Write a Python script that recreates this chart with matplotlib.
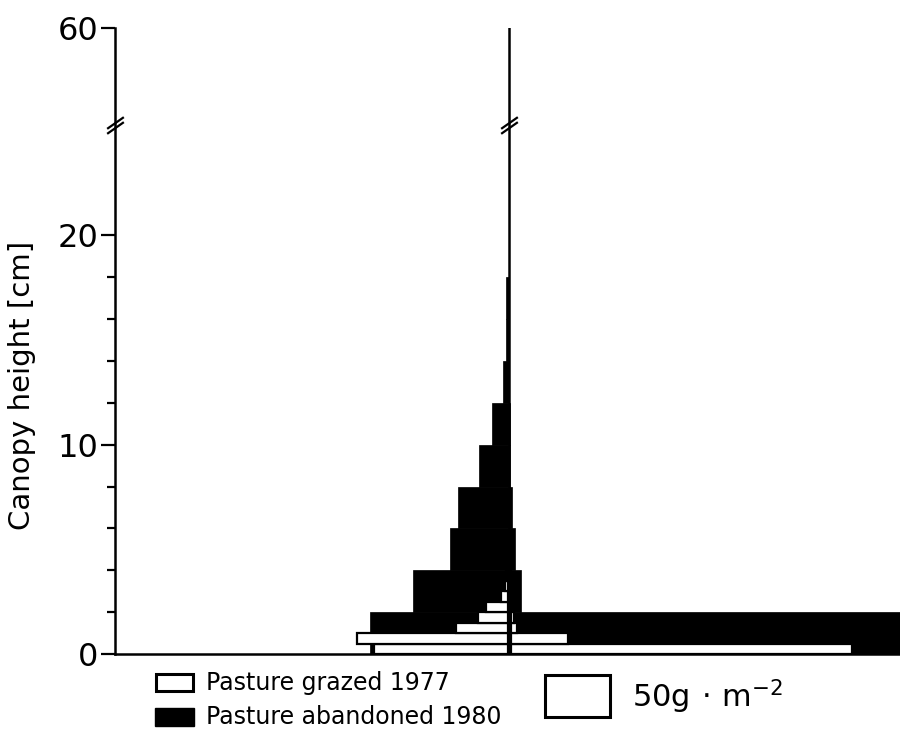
import numpy as np
import matplotlib
matplotlib.use("Agg")
import matplotlib.pyplot as plt
from matplotlib.patches import Rectangle
from matplotlib.path import Path

# ---------------- data (g m^-2, left = negative side of the central axis) -------------
# Pasture abandoned 1980: 2 cm strata
black_bottoms = [0, 2, 4, 6, 8, 10, 12, 14, 16]
black_left = [104, 72, 44, 38, 22.4, 12.7, 4.5, 2.5, 2.5]
black_right = [330, 9, 4.5, 2.2, 1.0, 0.5, 0.3, 0.3, 0.3]
black_height = 2

# Pasture grazed 1977: 0.5 cm strata
white_bottoms = [0, 0.5, 1.0, 1.5, 2.0, 2.5, 3.0, 3.5]
white_left = [100, 112.7, 38.8, 22.4, 16.4, 5.2, 2.2, 1.0]
white_right = [254.5, 42.5, 4.5, 2.0, 0, 0, 0, 0]
white_height = 0.5

ytick_major = [0, 10, 20, 60]
ytick_minor = [2, 4, 6, 8, 12, 14, 16, 18]
legend_labels = ["Pasture grazed 1977", "Pasture abandoned 1980"]
scale_label = r"50g$\,\cdot\,$m$^{-2}$"
ylabel = "Canopy height [cm]"

# ---------------- broken y scale ----------------
BRK = 25.25
K = (29.9 - BRK) / (60 - BRK)


def fwd(y):
    y = np.asarray(y, dtype=float)
    return np.where(y <= BRK, y, BRK + (y - BRK) * K)


def inv(y):
    y = np.asarray(y, dtype=float)
    return np.where(y <= BRK, y, BRK + (y - BRK) / K)


W, H = 900, 729
fig = plt.figure(figsize=(9, 7.29), dpi=100)
ax = fig.add_axes([115 / W, 1 - 654 / H, 1 - 115 / W, (654 - 28) / H])
ax.set_yscale("function", functions=(fwd, inv))
ax.set_ylim(0, 60)
PX = 1.34
ax.set_xlim((115 - 509) / PX, (900 - 509) / PX)

# black bars
ax.barh(black_bottoms, [-v for v in black_left], left=0, height=black_height,
        align="edge", color="black", edgecolor="black", linewidth=0.5, zorder=2)
ax.barh(black_bottoms, black_right, left=0, height=black_height,
        align="edge", color="black", edgecolor="black", linewidth=0.5, zorder=2)
# white bars
ax.barh(white_bottoms, [-v for v in white_left], left=-1.0, height=white_height,
        align="edge", color="white", edgecolor="black", linewidth=1.6, zorder=3)
ax.barh(white_bottoms, white_right, left=1.5, height=white_height,
        align="edge", color="white", edgecolor="black", linewidth=1.6, zorder=3)

# central axis
ax.axvline(0, ymin=0, ymax=1, color="black", lw=1.8, zorder=4)

# spines / ticks
for s in ["top", "right"]:
    ax.spines[s].set_visible(False)
ax.spines["left"].set_linewidth(1.8)
ax.spines["bottom"].set_linewidth(1.8)
ax.set_xticks([])
ax.set_yticks(ytick_major)
ax.set_yticklabels([str(t) for t in ytick_major])
ax.set_yticks(ytick_minor, minor=True)
ax.tick_params(axis="y", which="major", direction="out", length=10, width=1.6,
               labelsize=23, pad=2)
ax.tick_params(axis="y", which="minor", direction="out", length=6, width=1.6)
ax.set_ylabel(ylabel, fontsize=21)
ax.yaxis.set_label_coords((36 - 115) / 785, (654 - 385) / 626)

# break marks
brk_path = Path([(-1, -0.4), (1, 1.0), (-1, -1.0), (1, 0.4)],
                [Path.MOVETO, Path.LINETO, Path.MOVETO, Path.LINETO])
for xv in [ax.get_xlim()[0], 0]:
    ax.plot([xv], [BRK + 0.2], marker=brk_path, markersize=12, mew=1.6,
            color="black", clip_on=False, zorder=6, linestyle="none")

# ---------------- legend ----------------
def fx(x):
    return x / W


def fy(y):
    return 1 - y / H


fig.patches.append(Rectangle((fx(156), fy(691)), fx(193) - fx(156), fy(674) - fy(691),
                             transform=fig.transFigure, facecolor="white",
                             edgecolor="black", lw=2.2))
fig.patches.append(Rectangle((fx(155), fy(726)), fx(194) - fx(155), fy(708) - fy(726),
                             transform=fig.transFigure, facecolor="black",
                             edgecolor="black", lw=1))
fig.text(fx(206), fy(683), legend_labels[0], fontsize=17, va="center", ha="left")
fig.text(fx(206), fy(717), legend_labels[1], fontsize=17, va="center", ha="left")
fig.patches.append(Rectangle((fx(545), fy(717)), fx(610) - fx(545), fy(675) - fy(717),
                             transform=fig.transFigure, facecolor="white",
                             edgecolor="black", lw=2.2))
fig.text(fx(632), fy(697), scale_label, fontsize=22, va="center", ha="left")

fig.savefig("out.png", dpi=100)
